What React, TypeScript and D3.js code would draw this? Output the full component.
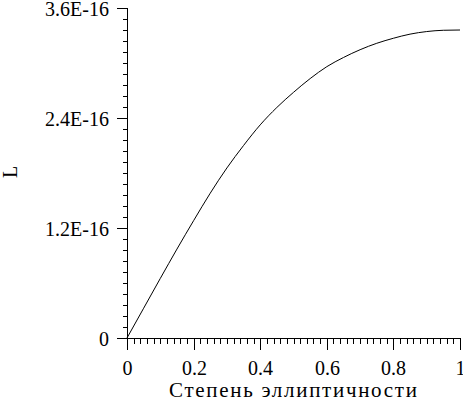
import React from "react";
import * as d3 from "d3";

const xValues = [0, 0.05, 0.1, 0.15, 0.2, 0.25, 0.3, 0.35, 0.4, 0.45, 0.5, 0.55, 0.6, 0.65, 0.7, 0.75, 0.8, 0.85, 0.9, 0.95, 1.0];
const yValues = [0, 0.325, 0.65, 0.97, 1.28, 1.58, 1.855, 2.1, 2.325, 2.515, 2.68, 2.83, 2.96, 3.06, 3.145, 3.215, 3.27, 3.315, 3.343, 3.357, 3.36].map((v) => v * 1e-16);

const xTickValues = [0, 0.2, 0.4, 0.6, 0.8, 1];
const xTickLabels = ["0", "0.2", "0.4", "0.6", "0.8", "1"];
const yTickValues = [0, 1.2e-16, 2.4e-16, 3.6e-16];
const yTickLabels = ["0", "1.2E-16", "2.4E-16", "3.6E-16"];

const xTitle = "Степень эллиптичности";
const yTitle = "L";

const W = 463;
const H = 402;
const FONT = "'Liberation Serif', Tinos, 'DejaVu Serif', 'Noto Serif', FreeSerif, Times, serif";
const textStyle = { fontFamily: FONT, fontSize: "20px" };

export default function App() {
  const x = d3.scaleLinear().domain([0, 1]).range([127, 460]);
  const y = d3.scaleLinear().domain([0, 3.6e-16]).range([338, 8]);

  const xMinor = d3.range(0, 51).map((i) => i * 0.02);
  const yMinor = d3.range(0, 31).map((i) => i * 0.12e-16);

  const data = xValues.map((xv, i) => [xv, yValues[i]] as [number, number]);
  const line = d3
    .line<[number, number]>()
    .x((d) => x(d[0]))
    .y((d) => y(d[1]))
    .curve(d3.curveMonotoneX);

  const x0 = Math.round(x(0)) + 0.5;
  const y0 = Math.round(y(0)) + 0.5;

  return (
    <svg
      width={W}
      height={H}
      style={{ position: "absolute", left: 0, top: 0, background: "#fff" }}
    >
      <rect x={0} y={0} width={W} height={H} fill="#fff" />
      {/* y axis */}
      <line x1={x0} x2={x0} y1={Math.round(y(3.6e-16)) + 0.5} y2={y0 + 10} stroke="#000" shapeRendering="crispEdges" />
      {yMinor.map((v, i) => {
        const yy = Math.round(y(v)) + 0.5;
        return <line key={"ym" + i} x1={x0 - 5} x2={x0} y1={yy} y2={yy} stroke="#000" shapeRendering="crispEdges" />;
      })}
      {yTickValues.map((v, i) => {
        const yy = Math.round(y(v)) + 0.5;
        return (
          <g key={"yt" + i}>
            <line x1={x0 - 11} x2={x0} y1={yy} y2={yy} stroke="#000" shapeRendering="crispEdges" />
            <text x={109} y={yy + 7} textAnchor="end" style={textStyle} fill="#000">
              {yTickLabels[i]}
            </text>
          </g>
        );
      })}
      {/* x axis */}
      <line x1={x0} x2={Math.round(x(1)) + 0.5} y1={y0} y2={y0} stroke="#000" shapeRendering="crispEdges" />
      {xMinor.map((v, i) => {
        const xx = Math.round(x(v)) + 0.5;
        return <line key={"xm" + i} x1={xx} x2={xx} y1={y0} y2={y0 + 5} stroke="#000" shapeRendering="crispEdges" />;
      })}
      {xTickValues.map((v, i) => {
        const xx = Math.round(x(v)) + 0.5;
        return (
          <g key={"xt" + i}>
            <line x1={xx} x2={xx} y1={y0} y2={y0 + 11} stroke="#000" shapeRendering="crispEdges" />
            <text x={xx} y={375} textAnchor="middle" style={textStyle} fill="#000">
              {xTickLabels[i]}
            </text>
          </g>
        );
      })}
      {/* curve */}
      <path d={line(data) || ""} fill="none" stroke="#000" strokeWidth={1} />
      {/* titles */}
      <text
        x={293}
        y={397}
        textAnchor="middle"
        style={{ fontFamily: FONT, fontSize: "21px" }}
        textLength={248}
        lengthAdjust="spacing"
        fill="#000"
      >
        {xTitle}
      </text>
      <text transform="translate(17,172) rotate(-90)" textAnchor="middle" style={textStyle} fill="#000">
        {yTitle}
      </text>
    </svg>
  );
}
